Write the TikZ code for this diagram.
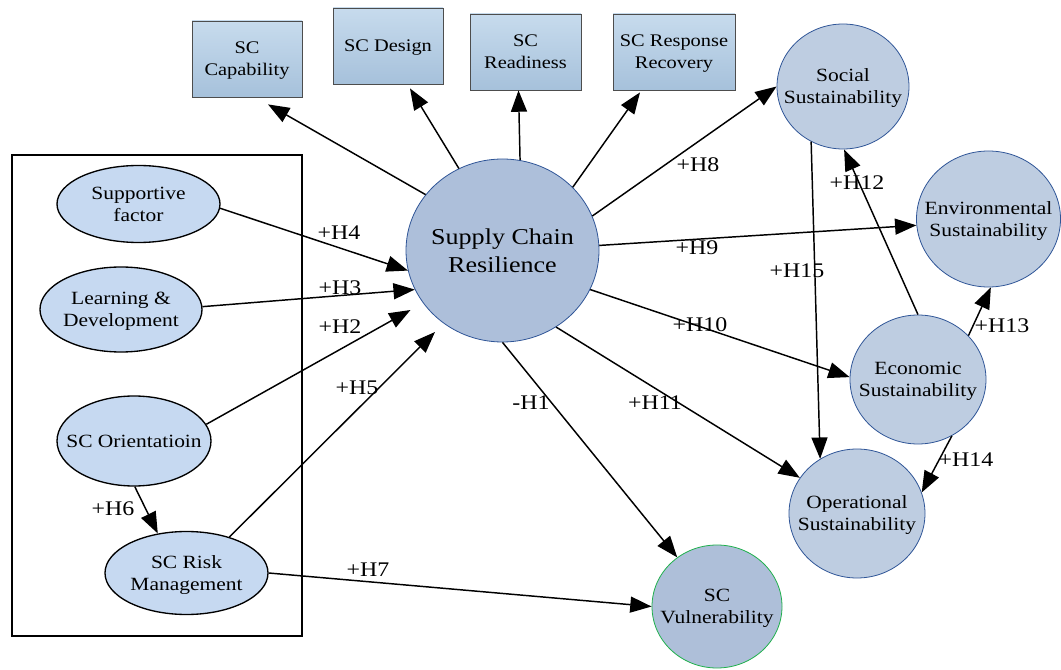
\documentclass[tikz,border=0pt]{standalone}
\usepackage{fontspec}
\setmainfont{Liberation Serif}[FakeStretch=1.15]
\usetikzlibrary{arrows.meta,shapes.geometric,calc}

\definecolor{boxtop}{HTML}{C7DBED}
\definecolor{boxbot}{HTML}{A6C1DB}
\definecolor{boxedge}{HTML}{4D4D4D}
\definecolor{scrfill}{HTML}{ADBFDA}
\definecolor{circfill}{HTML}{BECDE1}
\definecolor{bluedge}{HTML}{2F5597}
\definecolor{vulfill}{HTML}{AEBFD9}
\definecolor{vuledge}{HTML}{1FB04C}
\definecolor{ellfill}{HTML}{C6D9F1}

\tikzset{
  wh/.style 2 args={minimum width={#1*0.75pt}, minimum height={#2*0.75pt}},
  con/.style={draw=black, line width=1.1pt, -{Triangle[length=16pt,width=12pt]}},
  boxnode/.style={rectangle, draw=boxedge, line width=0.6pt, top color=boxtop,
    bottom color=boxbot, inner sep=0pt, align=center, text depth=0pt,
    font=\fontsize{13.3}{16.5}\selectfont},
  leftell/.style={ellipse, draw=black, line width=1pt, fill=ellfill,
    inner sep=-25pt, align=center, text depth=0pt,
    font=\fontsize{14}{16.5}\selectfont},
  circ/.style={ellipse, draw=bluedge, line width=0.6pt, fill=circfill,
    inner sep=-25pt, align=center, text depth=0pt,
    font=\fontsize{14}{16.5}\selectfont},
  core/.style={ellipse, draw=bluedge, line width=0.6pt, fill=scrfill,
    inner sep=-25pt, align=center, text depth=0pt,
    font=\fontsize{17}{20.8}\selectfont},
  hyp/.style={inner sep=0pt, font=\fontsize{15.6}{18}\selectfont},
}

\begin{document}
\begin{tikzpicture}[x=0.75pt,y=-0.75pt]
\useasboundingbox (0,0) rectangle (1061,670);

% frame around the antecedent constructs
\node[draw=black, line width=1pt, wh={290}{481}, inner sep=0pt] (frame) at (157,395.5) {};

% dimensions of resilience
\node[boxnode, wh={110}{76}] (cap) at (247,59) {SC\\Capability};
\node[boxnode, wh={110}{76}] (des) at (388,46) {SC Design};
\node[boxnode, wh={111}{76}] (rea) at (525.5,52) {SC\\Readiness};
\node[boxnode, wh={122}{76}] (res) at (674,52) {SC Response\\Recovery};

% central construct and outcomes
\node[core, wh={193}{183}] (scr) at (502.5,250.5) {Supply Chain\\Resilience};
\node[circ, wh={132}{125}] (soc) at (843,86.5) {Social\\Sustainability};
\node[circ, wh={144}{136}] (env) at (988.5,219) {Environmental\\Sustainability};
\node[circ, wh={136}{129}] (eco) at (918,379.5) {Economic\\Sustainability};
\node[circ, wh={136}{129}] (ope) at (857,513.5) {Operational\\Sustainability};
\node[circ, draw=vuledge, fill=vulfill, wh={130}{123}] (vul) at (717,606.5) {SC\\Vulnerability};

% antecedents
\node[leftell, wh={163}{77}] (sup) at (138.5,204) {Supportive\\factor};
\node[leftell, wh={162}{85}] (lea) at (121,309.5) {Learning \&\\Development};
\node[leftell, wh={154}{90}] (ori) at (134,441) {SC Orientatioin};
\node[leftell, wh={163}{83}] (ris) at (186.5,573) {SC Risk\\Management};

% resilience to its dimensions
\draw[con] (scr.144.4) -- ($(cap.south)+(21,7)$);
\draw[con] (scr.118.9) -- ($(des.south)+(22,4)$);
\draw[con] (scr.79.7) -- ($(rea.south)+(-7,0)$);
\draw[con] (scr.42.9) -- ($(res.south)+(-34,2)$);

% hypotheses from resilience
\draw[con] (scr.21.6) -- (soc.180);
\draw[con] (scr.3.9) -- (env.185.5);
\draw[con] (scr.336) -- (eco.178.8);
\draw[con] (scr.305.8) -- (ope.148.5);
\draw[con] (scr.270) -- (vul.129.6);

% hypotheses into resilience
\draw[con] (sup.357.3) -- (scr.192.8);
\draw[con] (lea.2) -- (scr.204.2);
\draw[con] (ori.13.7) -- ($(scr.center)+(-92,59.5)$);
\draw[con] (ris.40.3) -- ($(scr.center)+(-67.5,81.5)$);
\draw[con] (ori.271) -- (ris.126.3);
\draw[con] (ris.0) -- (vul.180);

% links among sustainability outcomes
\draw[con] (soc.240.4) -- (ope.124);
\draw[con] (eco.90) -- (soc.271);
\draw[con] (eco.41.5) -- (env.272.6);
\draw[con] (eco.301) -- (ope.18.6);

% hypothesis labels
\node[hyp] (h1) at (531,403) {-H1};
\node[hyp] (h2) at (340,327) {+H2};
\node[hyp] (h3) at (340,288) {+H3};
\node[hyp] (h4) at (339,233) {+H4};
\node[hyp] (h5) at (357,388) {+H5};
\node[hyp] (h6) at (113,509) {+H6};
\node[hyp] (h7) at (368,570) {+H7};
\node[hyp] (h8) at (698,165) {+H8};
\node[hyp] (h9) at (697,248) {+H9};
\node[hyp] (h10) at (700,325) {+H10};
\node[hyp] (h11) at (655,403) {+H11};
\node[hyp] (h12) at (857,183) {+H12};
\node[hyp] (h13) at (1002,326) {+H13};
\node[hyp] (h14) at (966,460) {+H14};
\node[hyp] (h15) at (797,271) {+H15};
\end{tikzpicture}
\end{document}
